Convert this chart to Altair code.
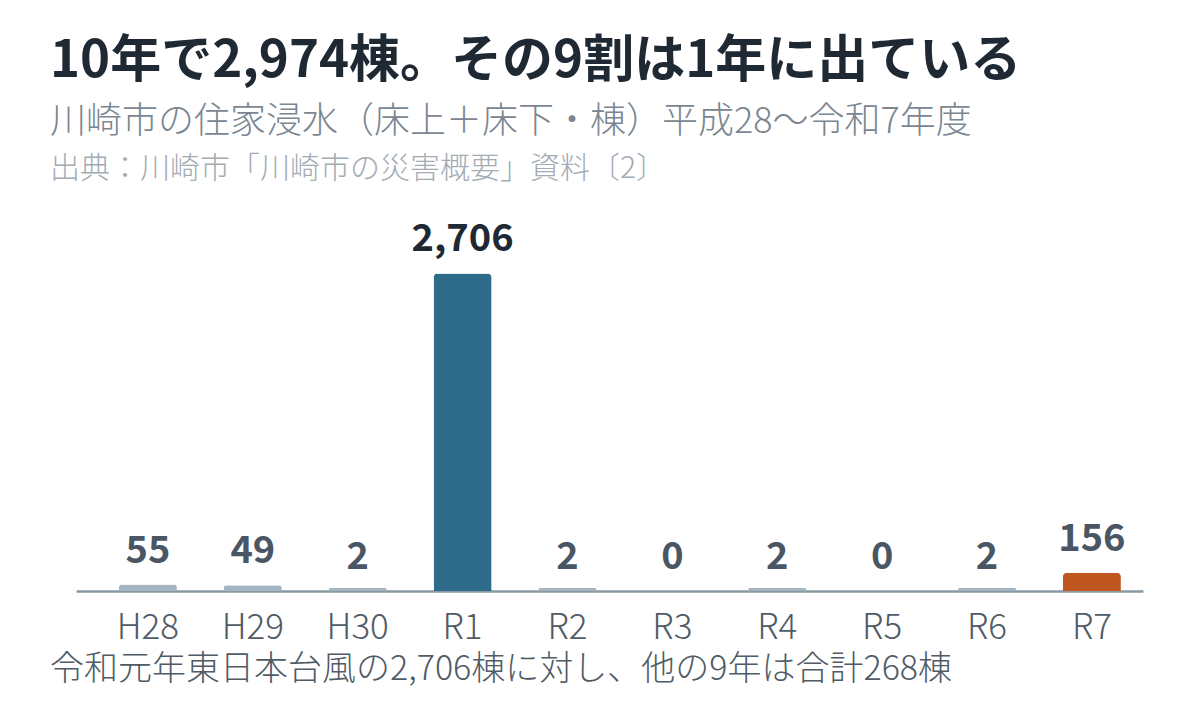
import altair as alt
import pandas as pd

years = ["H28", "H29", "H30", "R1", "R2", "R3", "R4", "R5", "R6", "R7"]
values = [55, 49, 2, 2706, 2, 0, 2, 0, 2, 156]
labels = ["55", "49", "2", "2,706", "2", "0", "2", "0", "2", "156"]
groups = ["other", "other", "other", "peak", "other", "other", "other", "other", "other", "latest"]

title_text = "10年で2,974棟。その9割は1年に出ている"
subtitle_text = "川崎市の住家浸水（床上＋床下・棟）平成28〜令和7年度"
source_text = "出典：川崎市「川崎市の災害概要」資料〔2〕"
note_text = "令和元年東日本台風の2,706棟に対し、他の9年は合計268棟"

FONT = "Noto Sans CJK JP"

df = pd.DataFrame({"year": years, "value": values, "label": labels, "group": groups})

W, H = 1067, 352

xenc = alt.X("year:N", sort=years,
             scale=alt.Scale(paddingInner=0.447, paddingOuter=0.31, align=0.66),
             axis=alt.Axis(title=None, labelAngle=0, labelFont=FONT, labelFontSize=35,
                           labelFontWeight=300,
                           labelColor="#4f5b66", labelPadding=19, ticks=False,
                           domainColor="#8a9aa5", domainWidth=2.5))
yscale = alt.Scale(domain=[0, 3000])

base = alt.Chart(df)

bars = base.transform_calculate(
    shown="datum.value > 0 ? max(datum.value, 25) : 0"
).mark_bar(cornerRadiusTopLeft=4, cornerRadiusTopRight=4).encode(
    x=xenc,
    y=alt.Y("shown:Q", scale=yscale, axis=None),
    color=alt.Color("group:N", scale=alt.Scale(domain=["other", "peak", "latest"],
                                               range=["#a3b5c2", "#2e6b8a", "#c0561f"]),
                    legend=None),
)

text = base.mark_text(dy=-14, baseline="bottom", font=FONT, fontSize=38, fontWeight="bold").encode(
    x=alt.X("year:N", sort=years),
    y=alt.Y("value:Q", scale=yscale),
    text="label:N",
    color=alt.Color("group:N", scale=alt.Scale(domain=["other", "peak", "latest"],
                                               range=["#4a5663", "#1f2933", "#4a5663"]),
                    legend=None),
)

one = pd.DataFrame({"t": [title_text], "s": [subtitle_text], "c": [source_text], "n": [note_text]})
tb = alt.Chart(one)
title = tb.mark_text(align="left", baseline="alphabetic", font=FONT, fontSize=51,
                     fontWeight="bold", color="#1f2933").encode(
    x=alt.value(-26), y=alt.value(-162), text="t:N")
subtitle = tb.mark_text(align="left", baseline="alphabetic", font=FONT, fontSize=36,
                        fontWeight=300, color="#7b8691").encode(
    x=alt.value(-26), y=alt.value(-106), text="s:N")
source = tb.mark_text(align="left", baseline="alphabetic", font=FONT, fontSize=30,
                      fontWeight=300, color="#a3abb3").encode(
    x=alt.value(-26), y=alt.value(-61), text="c:N")
note = tb.mark_text(align="left", baseline="alphabetic", font=FONT, fontSize=34,
                    fontWeight=300, color="#4f5b66").encode(
    x=alt.value(-26), y=alt.value(441), text="n:N")

chart = alt.layer(bars, text, title, subtitle, source, note).resolve_scale(
    color="independent"
).properties(
    width=W, height=H,
    background="white",
    autosize=alt.AutoSizeParams(type="none"),
    padding={"left": 68, "top": 231, "right": 41, "bottom": 121},
).configure_view(strokeWidth=0)

chart.save("out.html", embed_options={"renderer": "svg", "actions": False})
